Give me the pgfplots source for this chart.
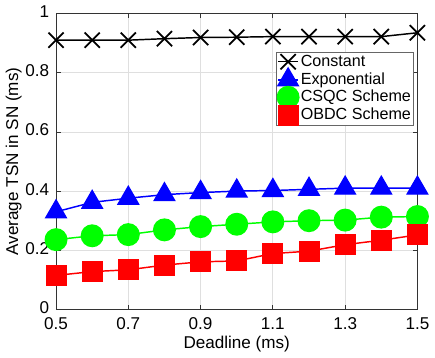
\documentclass[border=0pt]{standalone}
\usepackage{pgfplots}
\pgfplotsset{compat=1.18}
\usepackage{fontspec}
\setmainfont{Liberation Sans}
\begin{document}
\fontsize{17.5}{20}\selectfont
\begin{tikzpicture}
\begin{axis}[
  scale only axis,
  width=370pt, height=303pt,
  xmin=0.5, xmax=1.5, ymin=0, ymax=1,
  xtick={0.5,0.7,...,1.5},
  ytick={0,0.2,0.4,0.6,0.8,1},
  xticklabels={0.5,0.7,0.9,1.1,1.3,1.5},
  yticklabels={0,0.2,0.4,0.6,0.8,1},
  tick align=inside,
  major tick length=5pt,
  grid=major,
  grid style={gray!25, line width=0.8pt},
  axis line style={black!80, line width=0.9pt},
  tick style={black!80, line width=0.8pt},
  xlabel={Deadline (ms)},
  ylabel={Average TSN in SN (ms)},
  xticklabel style={yshift=-2pt},
  yticklabel style={xshift=-1pt, yshift=2pt},
  xlabel style={yshift=5pt},
  ylabel style={yshift=-8pt},
  tick label style={font=\fontsize{17.5}{20}\selectfont},
  label style={font=\fontsize{17.5}{20}\selectfont},
  legend style={at={(0.61,0.87)}, anchor=north west, draw=black!60, line width=0.8pt,
    font=\fontsize{16.5}{18}\selectfont, inner sep=0.5pt, row sep=-2.5pt,
    legend cell align=left},
  legend image code/.code={\draw[mark repeat=2,mark phase=2,#1] plot coordinates {(0pt,0pt) (10pt,0pt) (20pt,0pt)};},
  every axis plot/.append style={line width=1.5pt},
]
\addplot[black, mark=x, mark size=11pt, mark options={line width=1.8pt}] coordinates {
(0.5,0.910) (0.6,0.910) (0.7,0.910) (0.8,0.915) (0.9,0.919) (1.0,0.920) (1.1,0.922) (1.2,0.922) (1.3,0.922) (1.4,0.922) (1.5,0.935)};
\addlegendentry{Constant}
\addplot[blue, mark=triangle*, mark size=12pt, mark options={fill=blue}] coordinates {
(0.5,0.330) (0.6,0.362) (0.7,0.376) (0.8,0.388) (0.9,0.395) (1.0,0.400) (1.1,0.402) (1.2,0.406) (1.3,0.410) (1.4,0.410) (1.5,0.410)};
\addlegendentry{Exponential}
\addplot[green, mark=*, mark size=11pt, mark options={fill=green}] coordinates {
(0.5,0.236) (0.6,0.249) (0.7,0.253) (0.8,0.269) (0.9,0.280) (1.0,0.288) (1.1,0.296) (1.2,0.300) (1.3,0.302) (1.4,0.312) (1.5,0.314)};
\addlegendentry{CSQC Scheme}
\addplot[red, mark=square*, mark size=10pt, mark options={fill=red}] coordinates {
(0.5,0.115) (0.6,0.128) (0.7,0.134) (0.8,0.150) (0.9,0.161) (1.0,0.164) (1.1,0.189) (1.2,0.197) (1.3,0.219) (1.4,0.234) (1.5,0.252)};
\addlegendentry{OBDC Scheme}
\end{axis}
\end{tikzpicture}
\end{document}
